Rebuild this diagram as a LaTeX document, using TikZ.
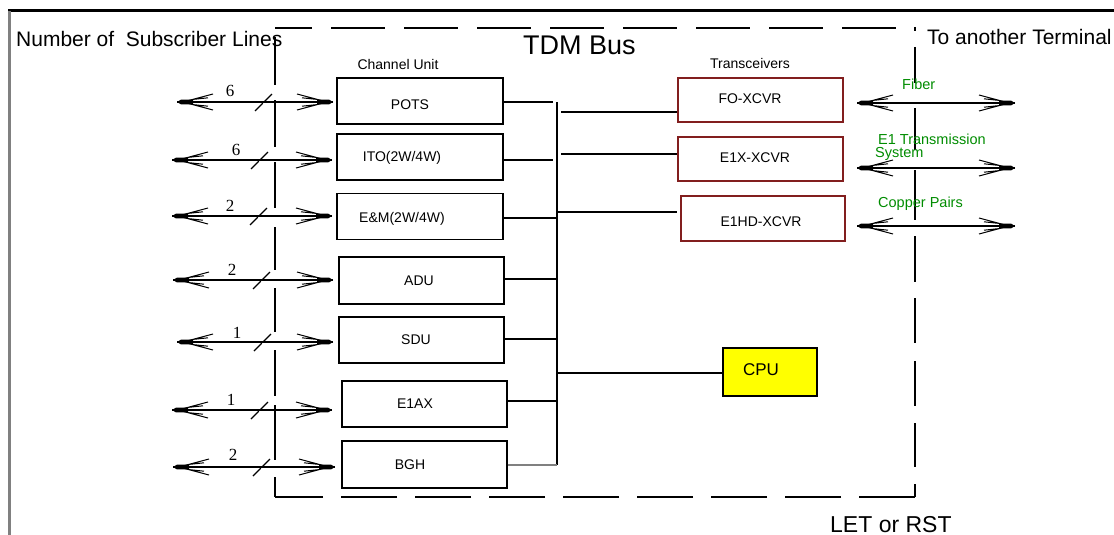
\documentclass[tikz,border=0pt]{standalone}
\usepackage{fontspec}
\setmainfont{Liberation Sans}
\newfontfamily\numfont{Liberation Serif}
\usetikzlibrary{calc}
\definecolor{xred}{RGB}{130,30,30}
\definecolor{lblgreen}{RGB}{0,140,0}
\definecolor{cpuyellow}{RGB}{255,255,0}
\newcommand\fs[1]{\fontsize{#1}{#1}\selectfont}
\tikzset{
  unitbox/.style={draw=black,line width=1.4pt,minimum width=166pt,minimum height=46pt,inner sep=0pt},
  xcvrbox/.style={draw=xred,line width=1.4pt,minimum width=165pt,minimum height=44pt,inner sep=0pt},
  smalllbl/.style={font=\fs{14},inner sep=0pt},
  greenlbl/.style={font=\fs{14.5},text=lblgreen,inner sep=0pt,anchor=base west},
  biglbl/.style={inner sep=0pt,anchor=base west},
  numlbl/.style={font=\numfont\fs{17},inner sep=0pt},
  wire/.style={line width=1.2pt},
  shaft/.style={line width=1.1pt},
  boxline/.style={line width=1.3pt},
  barbline/.style={line width=1pt},
  slashmark/.style={line width=1.2pt,dash pattern=on 11pt off 2pt}
}
% name, x1 (left tip), x2 (right tip), y
\newcommand\dblarrow[4]{%
  \coordinate (#1a) at (#2,#4);
  \coordinate (#1b) at (#3,#4);
  \draw[shaft] (#1a) -- (#1b);
  % right head
  \fill[black] (#3,#4) -- (#3-4,#4-2.4) -- (#3-16,#4-2.4) -- (#3-16,#4+2.4) -- (#3-4,#4+2.4) -- cycle;
  \draw[barbline] (#3-6,#4) -- (#3-36,#4-8) (#3-6,#4) -- (#3-36,#4+8)
                  (#3-16,#4-2.6) -- (#3-31,#4-4.2) (#3-16,#4+2.6) -- (#3-31,#4+4.2);
  % left head
  \fill[black] (#2,#4) -- (#2+4,#4-2.4) -- (#2+16,#4-2.4) -- (#2+16,#4+2.4) -- (#2+4,#4+2.4) -- cycle;
  \draw[barbline] (#2+6,#4) -- (#2+36,#4-8) (#2+6,#4) -- (#2+36,#4+8)
                  (#2+16,#4-2.6) -- (#2+31,#4-4.2) (#2+16,#4+2.6) -- (#2+31,#4+4.2);
}
\begin{document}
\begin{tikzpicture}[x=1pt,y=-1pt]
\useasboundingbox (0,0) rectangle (1114,535);
% outer frame
\draw[line width=3pt] (8,11) -- (1114,11);
\draw[line width=2.5pt,gray] (9.5,11) -- (9.5,535);
% dashed terminal box
\draw[boxline,dash pattern=on 54pt off 19pt,dash phase=17pt] (275,28) -- (898,28);
\draw[boxline,dash pattern=on 56pt off 18pt] (915,497) -- (275,497);
\foreach \a/\b in {37/85,100/147,162/208,227/270,288/332,350/396,405/460,477/497}
  \draw[boxline] (275,\a) -- (275,\b);
\foreach \a/\b in {27/31,47/83,108/150,170/220,236/282,298/343,361/406,423/467,484/497}
  \draw[boxline] (915,\a) -- (915,\b);
% titles
\node[biglbl,font=\fs{21}] (nsl) at (16,47) {Number of\ \ Subscriber Lines};
\node[biglbl,font=\fs{27}] (tdm) at (523,55) {TDM Bus};
\node[biglbl,font=\fs{21}] (toterm) at (927,45) {To another Terminal};
\node[biglbl,font=\fs{23}] (letrst) at (830,532) {LET or RST};
\node[smalllbl] (chu) at (398,64) {Channel Unit};
\node[smalllbl] (trx) at (750,63) {Transceivers};
% channel units
\node[unitbox] (pots) at (420,101) {};
\node[unitbox] (ito)  at (420,157) {};
\node[unitbox] (em)   at (420,216.5) {};
\node[unitbox,minimum width=165pt,minimum height=47pt] (adu) at (421.5,280.5) {};
\node[unitbox,minimum width=165pt] (sdu) at (421.5,340) {};
\node[unitbox,minimum width=165pt] (eiax) at (424.5,404) {};
\node[unitbox,minimum width=165pt,minimum height=47pt] (bgh) at (424.5,464.5) {};
\node[smalllbl] (potsT) at (410,105) {POTS};
\node[smalllbl] (itoT)  at (402,158) {ITO(2W/4W)};
\node[smalllbl] (emT)   at (402,219) {E\&M(2W/4W)};
\node[smalllbl] (aduT)  at (419,281) {ADU};
\node[smalllbl] (sduT)  at (416,340) {SDU};
\node[smalllbl] (eiaxT) at (415,404) {E1AX};
\node[smalllbl] (bghT)  at (410,465) {BGH};
% transceivers
\node[xcvrbox] (fo)   at (760.5,100) {};
\node[xcvrbox] (e1x)  at (760.5,159) {};
\node[xcvrbox,minimum width=164pt,minimum height=45pt] (e1hd) at (763,218.5) {};
\node[smalllbl] (foT)   at (750,99)  {FO-XCVR};
\node[smalllbl] (e1xT)  at (755,158) {E1X-XCVR};
\node[smalllbl] (e1hdT) at (761,222) {E1HD-XCVR};
% CPU
\node[draw=black,fill=cpuyellow,line width=1.4pt,minimum width=94pt,minimum height=48pt,inner sep=0pt] (cpu) at (770,372) {};
\node[inner sep=0pt,font=\fs{17}] (cpuT) at (761,370) {CPU};
% TDM bus
\coordinate (bustop) at (557,102);
\coordinate (busbot) at (557,465);
\draw[wire] (bustop) -- (busbot);
\coordinate (potsE) at (553,102);
\coordinate (itoE) at (553,160);
\coordinate (emE) at (557,218);
\coordinate (aduE) at (557,279);
\coordinate (sduE) at (557,339);
\coordinate (eiaxE) at (557,401);
\draw[wire] (pots.east |- potsE) -- (potsE);
\draw[wire] (ito.east |- itoE) -- (itoE);
\draw[wire] (em.east |- emE) -- (emE);
\draw[wire] (adu.east |- aduE) -- (aduE);
\draw[wire] (sdu.east |- sduE) -- (sduE);
\draw[wire] (eiax.east |- eiaxE) -- (eiaxE);
\draw[wire,gray] (bgh.east |- busbot) -- (busbot);
\coordinate (foW) at (561,112);
\coordinate (e1xW) at (561,154);
\coordinate (e1hdW) at (557,212);
\coordinate (cpuW) at (557,373);
\draw[wire] (foW) -- (fo.west |- foW);
\draw[wire] (e1xW) -- (e1x.west |- e1xW);
\draw[wire] (e1hdW) -- ($(e1hd.west |- e1hdW)+(-3,0)$);
\draw[wire] (cpuW) -- (cpu.west |- cpuW);
% subscriber line arrows
\dblarrow{r1}{177}{333}{102}
\dblarrow{r2}{172}{332}{160}
\dblarrow{r3}{172}{332}{216}
\dblarrow{r4}{173}{333}{280}
\dblarrow{r5}{177}{333}{342}
\dblarrow{r6}{172}{332}{410}
\dblarrow{r7}{173}{335}{467}
\foreach \c/\y in {264/102,260/160,259/216,262/280,263/342,260/410,262/467}
  \draw[slashmark] (\c-9,\y+9) -- (\c+9,\y-9);
\node[numlbl] (n1) at (230,91) {6};
\node[numlbl] (n2) at (236,150) {6};
\node[numlbl] (n3) at (230,206) {2};
\node[numlbl] (n4) at (232,270) {2};
\node[numlbl] (n5) at (237,333) {1};
\node[numlbl] (n6) at (231,400) {1};
\node[numlbl] (n7) at (233,455) {2};
% outgoing arrows
\dblarrow{t1}{857}{1015}{103}
\dblarrow{t2}{857}{1015}{168}
\dblarrow{t3}{857}{1015}{226}
\node[greenlbl] (fib) at (902,89) {Fiber};
\node[greenlbl] (e1t) at (878,144) {E1 Transmission};
\node[greenlbl] (sys) at (875,157) {System};
\node[greenlbl] (cop) at (878,207) {Copper Pairs};
\end{tikzpicture}
\end{document}
